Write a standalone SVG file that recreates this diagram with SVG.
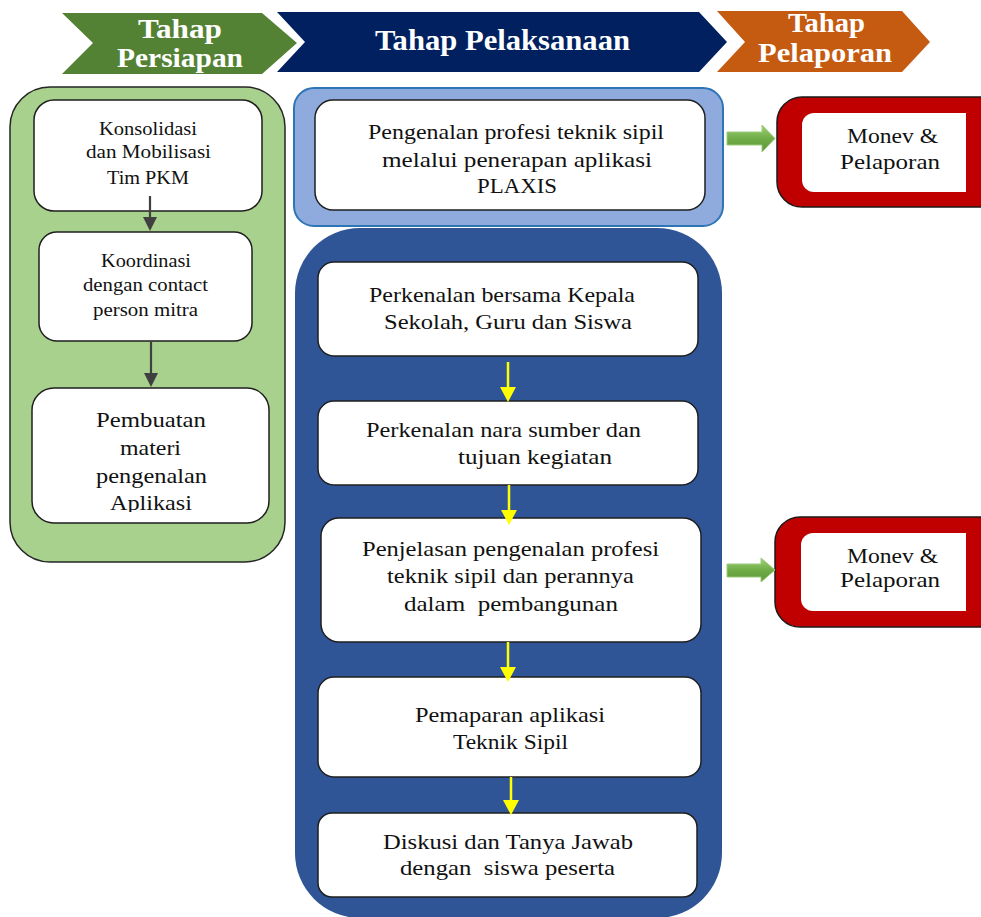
<svg xmlns="http://www.w3.org/2000/svg" width="981" height="917" viewBox="0 0 981 917">
<defs>
<style>
.t{font-family:"Liberation Serif","Times New Roman",serif;fill:#111;text-anchor:middle}
.s19{font-size:19px}
.s22{font-size:22px}
.h{font-family:"Liberation Serif","Times New Roman",serif;font-weight:bold;fill:#fff;text-anchor:middle}
.box{fill:#fff;stroke:#1f1f1f;stroke-width:1.5}
.dk{stroke:#404040;stroke-width:2.2;fill:none}
.dkh{fill:#404040}
.yl{stroke:#FFFF00;stroke-width:2.5;fill:none}
.ylh{fill:#FFFF00}
.red{fill:#C00000;stroke:#1a1a1a;stroke-width:1.5}
.ga{fill:url(#gg);stroke:#9CCB7C;stroke-width:1}
</style>
<linearGradient id="gg" x1="0" y1="0" x2="0" y2="1">
<stop offset="0" stop-color="#9FD27A"/>
<stop offset="0.5" stop-color="#70AD47"/>
<stop offset="1" stop-color="#5B9637"/>
</linearGradient>
<clipPath id="c3"><rect x="32" y="388" width="237" height="124"/></clipPath>
</defs>
<rect width="981" height="917" fill="#fff"/>

<g id="header-persiapan">
<polygon points="62,13 262,13 297,43 262,74 62,74 93,43" fill="#548235"/>
<text class="h" x="180" y="38" font-size="28" textLength="84" lengthAdjust="spacingAndGlyphs">Tahap</text>
<text class="h" x="180" y="67" font-size="28" textLength="126" lengthAdjust="spacingAndGlyphs">Persiapan</text>
</g>
<g id="header-pelaksanaan">
<polygon points="277,12 699,12 727,42 699,72 277,72 305,42" fill="#002060"/>
<text class="h" x="502.5" y="50" font-size="30" textLength="255" lengthAdjust="spacingAndGlyphs">Tahap Pelaksanaan</text>
</g>
<g id="header-pelaporan">
<polygon points="717,11 902,11 930,42 902,72 717,72 745,42" fill="#C55A11"/>
<text class="h" x="826.5" y="32" font-size="28" textLength="77" lengthAdjust="spacingAndGlyphs">Tahap</text>
<text class="h" x="825" y="62" font-size="28" textLength="134" lengthAdjust="spacingAndGlyphs">Pelaporan</text>
</g>

<g id="persiapan-container">
<rect x="10" y="87" width="275" height="475" rx="40" fill="#A9D18E" stroke="#262626" stroke-width="1.5"/>
</g>
<g id="konsolidasi">
<rect class="box" x="34" y="100" width="228" height="111" rx="20"/>
<text class="t s19" x="148" y="135" textLength="98" lengthAdjust="spacingAndGlyphs">Konsolidasi</text>
<text class="t s19" x="148.5" y="158" textLength="125" lengthAdjust="spacingAndGlyphs">dan Mobilisasi</text>
<text class="t s19" x="148" y="184" textLength="82" lengthAdjust="spacingAndGlyphs">Tim PKM</text>
</g>
<g id="koordinasi">
<rect class="box" x="39" y="232" width="213" height="109" rx="18"/>
<text class="t s19" x="146" y="267" textLength="90" lengthAdjust="spacingAndGlyphs">Koordinasi</text>
<text class="t s19" x="145.5" y="291" textLength="125" lengthAdjust="spacingAndGlyphs">dengan contact</text>
<text class="t s19" x="145.5" y="316" textLength="105" lengthAdjust="spacingAndGlyphs">person mitra</text>
</g>
<g id="pembuatan">
<rect class="box" x="32" y="388" width="237" height="135" rx="22"/>
<g clip-path="url(#c3)">
<text class="t s22" x="151" y="427" textLength="110" lengthAdjust="spacingAndGlyphs">Pembuatan</text>
<text class="t s22" x="150.5" y="455" textLength="61" lengthAdjust="spacingAndGlyphs">materi</text>
<text class="t s22" x="151.5" y="483" textLength="111" lengthAdjust="spacingAndGlyphs">pengenalan</text>
<text class="t s22" x="151" y="510" textLength="82" lengthAdjust="spacingAndGlyphs">Aplikasi</text>
</g>
</g>

<g id="plaxis">
<rect x="294" y="88" width="429" height="138" rx="20" fill="#8FAADC" stroke="#2E75B6" stroke-width="2"/>
<rect class="box" x="315" y="100" width="390" height="110" rx="18"/>
<text class="t s22" x="516" y="139" textLength="296" lengthAdjust="spacingAndGlyphs">Pengenalan profesi teknik sipil</text>
<text class="t s22" x="517" y="167" textLength="270" lengthAdjust="spacingAndGlyphs">melalui penerapan aplikasi</text>
<text class="t s22" x="517" y="193" textLength="80" lengthAdjust="spacingAndGlyphs">PLAXIS</text>
</g>

<g id="pelaksanaan-container">
<rect x="295" y="228" width="427" height="690" rx="65" fill="#2F5597"/>
</g>
<g id="perkenalan-kepala">
<rect class="box" x="318" y="262" width="380" height="94" rx="16"/>
<text class="t s22" x="502" y="302" textLength="266" lengthAdjust="spacingAndGlyphs">Perkenalan bersama Kepala</text>
<text class="t s22" x="508" y="329" textLength="248" lengthAdjust="spacingAndGlyphs">Sekolah, Guru dan Siswa</text>
</g>
<g id="perkenalan-narasumber">
<rect class="box" x="318" y="401" width="380" height="84" rx="16"/>
<text class="t s22" x="503.5" y="437" textLength="275" lengthAdjust="spacingAndGlyphs">Perkenalan nara sumber dan</text>
<text class="t s22" x="535" y="464" textLength="154" lengthAdjust="spacingAndGlyphs">tujuan kegiatan</text>
</g>
<g id="penjelasan">
<rect class="box" x="321" y="518" width="380" height="124" rx="18"/>
<text class="t s22" x="510.5" y="556" textLength="297" lengthAdjust="spacingAndGlyphs">Penjelasan pengenalan profesi</text>
<text class="t s22" x="510.5" y="583" textLength="247" lengthAdjust="spacingAndGlyphs">teknik sipil dan perannya</text>
<text class="t s22" x="511" y="611" textLength="214" lengthAdjust="spacingAndGlyphs" xml:space="preserve">dalam  pembangunan</text>
</g>
<g id="pemaparan">
<rect class="box" x="318" y="677" width="383" height="100" rx="16"/>
<text class="t s22" x="510" y="722" textLength="190" lengthAdjust="spacingAndGlyphs">Pemaparan aplikasi</text>
<text class="t s22" x="510.5" y="749" textLength="115" lengthAdjust="spacingAndGlyphs">Teknik Sipil</text>
</g>
<g id="diskusi">
<rect class="box" x="318" y="813" width="379" height="84" rx="14"/>
<text class="t s22" x="508" y="849" textLength="250" lengthAdjust="spacingAndGlyphs">Diskusi dan Tanya Jawab</text>
<text class="t s22" x="507.5" y="875" textLength="215" lengthAdjust="spacingAndGlyphs" xml:space="preserve">dengan  siswa peserta</text>
</g>

<g id="monev-1">
<rect class="red" x="777" y="97" width="240" height="110" rx="25"/>
<path d="M814,113 H966 V192 H814 A12,12 0 0 1 802,180 V125 A12,12 0 0 1 814,113 Z" fill="#fff"/>
<text class="t s22" x="892.5" y="143" textLength="91" lengthAdjust="spacingAndGlyphs">Monev &amp;</text>
<text class="t s22" x="890" y="169" textLength="100" lengthAdjust="spacingAndGlyphs">Pelaporan</text>
</g>
<g id="monev-2">
<rect class="red" x="775" y="517" width="240" height="110" rx="25"/>
<path d="M813,533 H966 V611 H813 A12,12 0 0 1 801,599 V545 A12,12 0 0 1 813,533 Z" fill="#fff"/>
<text class="t s22" x="892.5" y="563" textLength="91" lengthAdjust="spacingAndGlyphs">Monev &amp;</text>
<text class="t s22" x="890" y="587" textLength="100" lengthAdjust="spacingAndGlyphs">Pelaporan</text>
</g>

<g id="connectors">
<line class="dk" x1="150" y1="196" x2="150" y2="219"/>
<polygon class="dkh" points="143,217 157,217 150,231"/>
<line class="dk" x1="151" y1="342" x2="151" y2="375"/>
<polygon class="dkh" points="144,373 158,373 151,387"/>
<line class="yl" x1="508" y1="362" x2="508" y2="389"/>
<polygon class="ylh" points="500,387 516,387 508,402"/>
<line class="yl" x1="509" y1="485" x2="509" y2="512"/>
<polygon class="ylh" points="501,510 517,510 509,525"/>
<line class="yl" x1="508" y1="642" x2="508" y2="669"/>
<polygon class="ylh" points="500,667 516,667 508,682"/>
<line class="yl" x1="511" y1="777" x2="511" y2="802"/>
<polygon class="ylh" points="503,800 519,800 511,815"/>
<polygon class="ga" points="727,132 762,132 762,125 775,138.5 762,152 762,145 727,145"/>
<polygon class="ga" points="727,564 761,564 761,558 775,570 761,582 761,577 727,577"/>
</g>
</svg>
